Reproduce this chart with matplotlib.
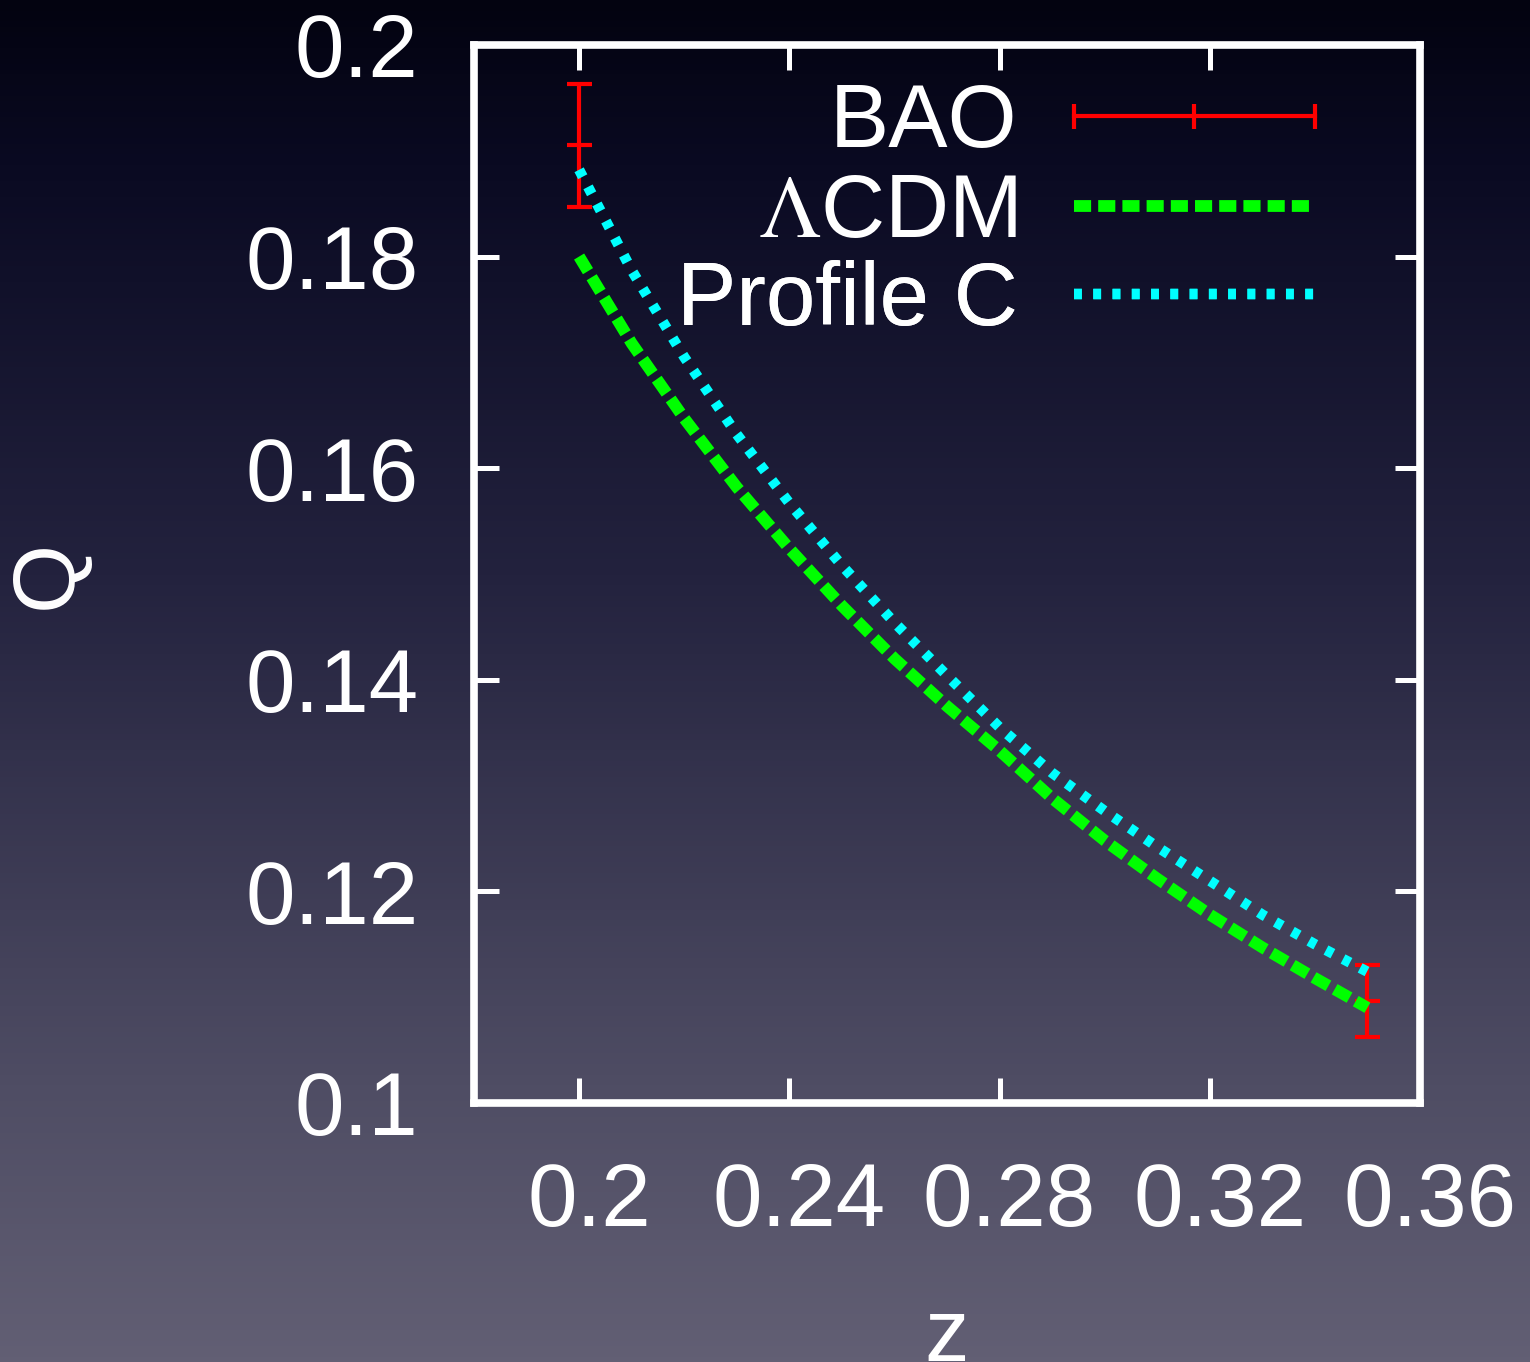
import numpy as np
import matplotlib
matplotlib.use('Agg')
import matplotlib.pyplot as plt
from matplotlib.colors import LinearSegmentedColormap
from matplotlib.lines import Line2D
from matplotlib.transforms import ScaledTranslation

plt.rcParams['font.family'] = ['Liberation Sans', 'DejaVu Sans']
plt.rcParams['mathtext.fontset'] = 'stix'

# ---------------------------------------------------------------
# data
# ---------------------------------------------------------------
bao_z = [0.20, 0.35]
bao_q = [0.1905, 0.1096]
bao_err = [0.0058, 0.0034]

z_grid = [0.20, 0.21, 0.22, 0.23, 0.24, 0.25, 0.26, 0.27,
          0.28, 0.29, 0.30, 0.31, 0.32, 0.33, 0.34, 0.35]
q_lcdm = [0.1800, 0.1718, 0.1647, 0.1582, 0.1524, 0.1470, 0.1420, 0.1375,
          0.1333, 0.1288, 0.1248, 0.1212, 0.1178, 0.1147, 0.1118, 0.1090]
q_profc = [0.1882, 0.1787, 0.1705, 0.1632, 0.1567, 0.1508, 0.1454, 0.1404,
           0.1355, 0.1312, 0.1276, 0.1242, 0.1210, 0.1178, 0.1150, 0.1124]

x_ticks = [0.20, 0.24, 0.28, 0.32, 0.36]
x_tick_labels = ['0.2', '0.24', '0.28', '0.32', '0.36']
y_ticks = [0.10, 0.12, 0.14, 0.16, 0.18, 0.20]
y_tick_labels = ['0.1', '0.12', '0.14', '0.16', '0.18', '0.2']

labels = ['BAO', r'$\Lambda$CDM', 'Profile C']

FS = 64

fig = plt.figure(figsize=(15.3, 13.62), dpi=100)

# slide-style gradient background
bg = fig.add_axes([0, 0, 1, 1], zorder=-1)
cmap = LinearSegmentedColormap.from_list(
    'slide', [(0.0, '#030310'), (0.12, '#0a0a22'), (0.42, '#23223e'),
              (0.8, '#4f4d64'), (1.0, '#625f74')])
bg.imshow(np.linspace(0, 1, 256).reshape(-1, 1), aspect='auto', cmap=cmap,
          extent=[0, 1, 1, 0])
bg.set_axis_off()

ax = fig.add_axes([0.3098, 0.1902, 0.6183, 0.7768])
ax.set_facecolor('none')

ax.errorbar(bao_z, bao_q, yerr=bao_err, fmt='_', color='red', markersize=18,
            mew=3, elinewidth=3, capsize=9, capthick=3, zorder=2)
l_lcdm, = ax.plot(z_grid, q_lcdm, color='#00ff00', lw=8.5,
                  linestyle=(0, (1.45, 0.6)), solid_capstyle='butt',
                  dash_capstyle='butt', zorder=3)
l_prof, = ax.plot(z_grid, q_profc, color='#00ffff', lw=7.5,
                  linestyle=(0, (0.75, 1.1)), dash_capstyle='butt', zorder=4)

ax.set_xlim(0.18, 0.36)
ax.set_ylim(0.10, 0.20)
ax.set_xticks(x_ticks)
ax.set_xticklabels(x_tick_labels)
ax.set_yticks(y_ticks)
ax.set_yticklabels(y_tick_labels)

for s in ax.spines.values():
    s.set_color('white')
    s.set_linewidth(5.5)
ax.tick_params(axis='both', which='major', direction='in', length=18, width=3.6,
               color='white', labelcolor='white', labelsize=FS,
               top=True, right=True)
ax.tick_params(axis='x', pad=42)
ax.tick_params(axis='y', pad=40)

# gnuplot puts the x labels a little to the right of the ticks
shift = ScaledTranslation(10 / 100, 0, fig.dpi_scale_trans)
for t in ax.get_xticklabels():
    t.set_transform(t.get_transform() + shift)

ax.set_xlabel('z', color='white', fontsize=FS)
ax.xaxis.set_label_coords(0.5, -0.182)
ax.set_ylabel('Q', color='white', fontsize=FS)
ax.yaxis.set_label_coords(-0.405, 0.5)

# legend: one entry per legend so the labels line up on the right
bao_proxy = Line2D([], [], color='red', lw=3, marker='|', markersize=18, mew=3)
handles = [bao_proxy, l_lcdm, l_prof]
rows_y = [0.925, 0.840, 0.757]
for h, lab, yy in zip(handles, labels, rows_y):
    leg = ax.legend([h], [lab], loc='center right', bbox_to_anchor=(0.9175, yy),
                    frameon=False, fontsize=FS, labelcolor='white', markerfirst=False,
                    numpoints=3, handlelength=3.32, handletextpad=0.33,
                    borderpad=0, borderaxespad=0)
    ax.add_artist(leg)

fig.savefig('out.png', dpi=100)
